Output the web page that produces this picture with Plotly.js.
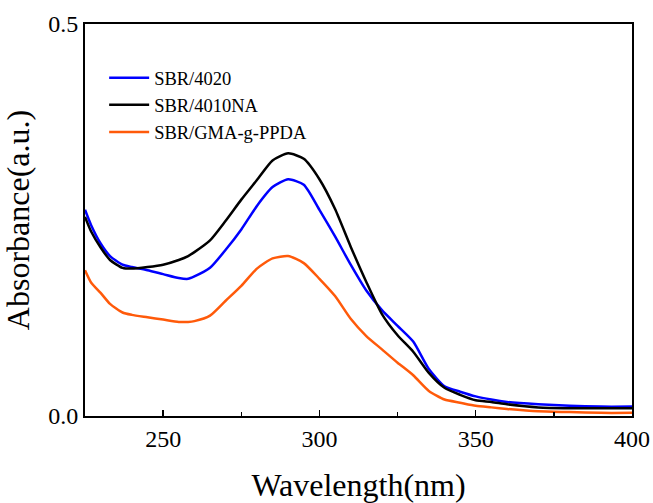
<!DOCTYPE html>
<html><head><meta charset="utf-8">
<script src="https://cdn.plot.ly/plotly-3.0.1.min.js"></script>
<style>html,body{margin:0;padding:0;background:#fff}#chart{width:653px;height:503px}</style>
</head><body><div id="chart"></div>
<script>
const wavelength = [225,227,230,233,237,240,245,250,255,258,260,265,270,275,280,285,290,295,300,305,310,315,320,325,330,335,340,345,350,355,360,370,380,390,400];
const sbr4020 = [0.263,0.243,0.220,0.204,0.193,0.190,0.186,0.181,0.176,0.175,0.178,0.189,0.212,0.238,0.268,0.292,0.302,0.295,0.263,0.229,0.193,0.160,0.135,0.115,0.095,0.060,0.038,0.031,0.025,0.021,0.018,0.015,0.013,0.012,0.012];
const sbr4010na = [0.254,0.235,0.215,0.199,0.189,0.188,0.190,0.193,0.199,0.204,0.209,0.224,0.249,0.276,0.301,0.326,0.335,0.328,0.302,0.264,0.216,0.171,0.130,0.103,0.082,0.055,0.036,0.027,0.020,0.018,0.015,0.011,0.010,0.010,0.010];
const sbrGma = [0.186,0.170,0.157,0.143,0.132,0.129,0.126,0.123,0.120,0.120,0.121,0.128,0.147,0.166,0.188,0.201,0.204,0.195,0.175,0.153,0.124,0.102,0.085,0.068,0.052,0.032,0.021,0.017,0.013,0.011,0.009,0.006,0.005,0.004,0.004];
const seriesNames = ['SBR/4020','SBR/4010NA','SBR/GMA-g-PPDA'];
const colors = ['#0000ff','#000000','#ff5a0a'];
const xTicks = [250,300,350,400];
const yTicks = [0.0,0.5];
const yTickText = ['0.0','0.5'];

const font = 'Liberation Serif, Times New Roman, serif';
const data = [sbr4020, sbr4010na, sbrGma].map((ys,i)=>({
  x: wavelength, y: ys, type:'scatter', mode:'lines', name: seriesNames[i],
  line:{color:colors[i], width:2.5, shape:'spline', smoothing:0.6}
}));
const layout = {
  width:653, height:503,
  margin:{l:85, r:21, t:24, b:87},
  paper_bgcolor:'#fff', plot_bgcolor:'#fff',
  font:{family:font, color:'#000'},
  showlegend:true,
  legend:{x:0.035, y:0.91, xanchor:'left', yanchor:'top', bgcolor:'rgba(0,0,0,0)',
    font:{family:font, size:18.5, color:'#000'}, tracegroupgap:0, itemwidth:40},
  xaxis:{range:[225,400], tickvals:xTicks, ticks:'inside', ticklen:6, tickwidth:1.5, tickcolor:'#000',
    minor:{dtick:25, tick0:225, ticks:'inside', ticklen:4, tickwidth:1.5, tickcolor:'#000'},
    showgrid:false, zeroline:false, showline:true, linecolor:'#000', linewidth:2, mirror:true,
    tickfont:{family:font, size:24, color:'#000'},
    title:{text:'Wavelength(nm)', font:{family:font, size:32, color:'#000'}, standoff:24}},
  yaxis:{range:[0,0.5], tickvals:yTicks, ticktext:yTickText, ticks:'', showgrid:false, zeroline:false,
    showline:true, linecolor:'#000', linewidth:2, mirror:true,
    tickfont:{family:font, size:24, color:'#000'},
    title:{text:'Absorbance(a.u.)', font:{family:font, size:32, color:'#000'}, standoff:14}}
};
Plotly.newPlot('chart', data, layout, {displayModeBar:false, staticPlot:true});
</script></body></html>
